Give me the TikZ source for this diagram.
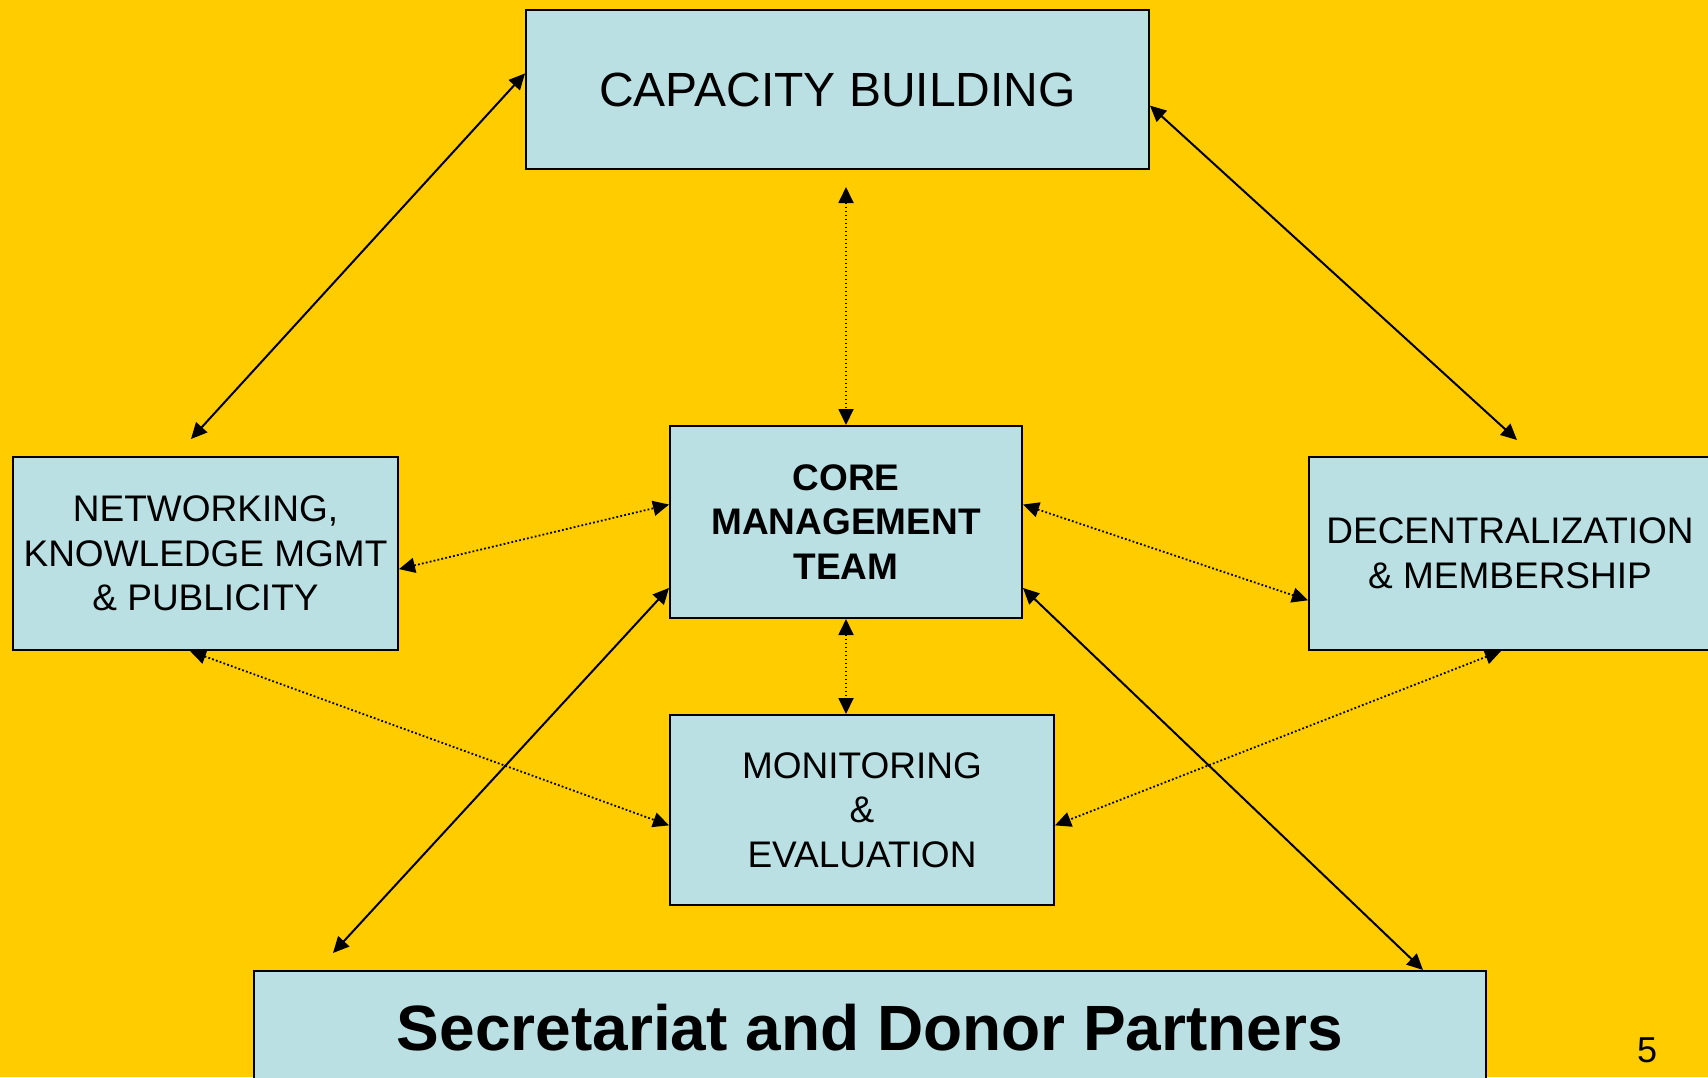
\documentclass[tikz,border=0pt]{standalone}
\usepackage{xcolor}
\usepackage{fontspec}
\setmainfont{Liberation Sans}
\usepackage{tikz}
\usetikzlibrary{arrows.meta, calc}
\definecolor{slidebg}{RGB}{255,204,0}
\definecolor{boxfill}{RGB}{187,224,227}
\tikzset{
	box/.style={draw, line width=1pt, fill=boxfill, align=center, inner sep=0pt,
		font=\fontsize{18.5}{22.3}\selectfont},
	link/.style={{Triangle[length=8pt,width=7.5pt]}-{Triangle[length=8pt,width=7.5pt]}, line width=1pt},
	dots/.style={link, line width=0.9pt, dash pattern=on 0.9pt off 1.1pt}
}

\begin{document}
\begin{tikzpicture}[x=0.5pt, y=-0.5pt]
	\useasboundingbox (0,0) rectangle (1708,1077);
	\fill[slidebg] (0,0) rectangle (1708,1077);
	
	\node[box, minimum width=311.5pt, minimum height=79.5pt, font=\fontsize{24}{29}\selectfont] (cap) at (837.5,89.5) {CAPACITY BUILDING};
	\node[box, minimum width=192.5pt, minimum height=96.5pt] (net) at (205.5,553.5) {NETWORKING,\\KNOWLEDGE MGMT\\\& PUBLICITY};
	\node[box, minimum width=176pt, minimum height=96pt, font=\fontsize{18.5}{22.3}\selectfont\bfseries] (core) at (846,522) {CORE\\MANAGEMENT\\TEAM};
	\node[box, minimum width=201pt, minimum height=96.5pt] (dec) at (1510,553.5) {DECENTRALIZATION\\\& MEMBERSHIP};
	\node[box, minimum width=192pt, minimum height=95pt] (mon) at (862,810) {MONITORING\\\&\\EVALUATION};
	\node[box, minimum width=616pt, minimum height=57pt, font=\fontsize{32}{38}\selectfont\bfseries] (sec) at (870,1028) {Secretariat and Donor Partners};
	\node[font=\fontsize{18}{20}\selectfont] (pg) at (1647,1050) {5};
	
	\draw[link] ($(cap.north west)!.4!(cap.south west)$) -- ($(net.north)+(-14.5,-17)$);
	\draw[link] ($(cap.north east)!.6!(cap.south east)$) -- ($(dec.north)+(7,-16)$);
	\draw[dots] ($(cap.south -| core.north)+(0,17)$) -- (core.north);
	\draw[dots] ($(net.north east)!.58!(net.south east)$) -- ($(core.north west)!.41!(core.south west)$);
	\draw[dots] ($(core.north east)!.41!(core.south east)$) -- ($(dec.north west)!.74!(dec.south west)$);
	\draw[dots] (core.south) -- (core.south |- mon.north);
	\draw[dots] ($(net.south west)!.46!(net.south east)$) -- ($(mon.north west)!.58!(mon.south west)$);
	\draw[dots] ($(dec.south)+(-9,0)$) -- ($(mon.north east)!.58!(mon.south east)$);
	\draw[link] ($(core.north west)!.84!(core.south west)$) -- ($(sec.north west)+(80,-17)$);
	\draw[link] ($(core.north east)!.84!(core.south east)$) -- ($(sec.north east)+(-64,0)$);
\end{tikzpicture}
\end{document}
